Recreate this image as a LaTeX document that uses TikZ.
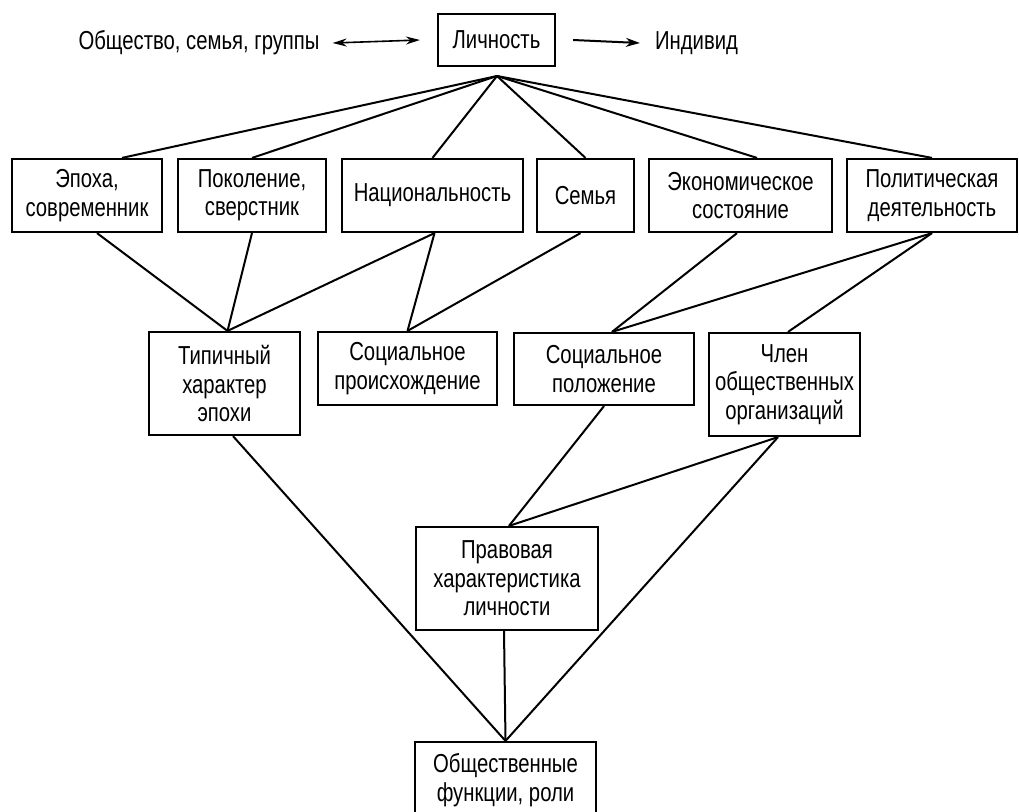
\documentclass[tikz,border=0pt]{standalone}
\usepackage{fontspec}
\setmainfont[FakeStretch=0.78]{Liberation Sans}
\usetikzlibrary{arrows.meta,calc}
\tikzset{
  box/.style={draw=black, line width=2.2pt, inner sep=0pt, align=center, fill=white},
  link/.style={draw=black, line width=2pt},
  lbl/.style={inner sep=0pt, align=center},
  tip/.style={-{Stealth[length=14pt,width=9pt]}}
}
\begin{document}
\begin{tikzpicture}[x=1pt,y=-1pt,font=\fontsize{26}{28.5}\selectfont]
\useasboundingbox (0,0) rectangle (1019,811);
\fill[white] (0,0) rectangle (1019,811);
% top
\node[box, minimum width=117pt, minimum height=52pt] (L) at (496.5,40) {Личность};
\node[lbl] (soc) at (199,43) {Общество, семья, группы};
\node[lbl] (ind) at (696.5,43) {Индивид};
\coordinate (hub) at (497,76);
% row 1
\node[box, minimum width=150pt, minimum height=73pt] (e1) at (87,195.5) {Эпоха,\\современник};
\node[box, minimum width=148pt, minimum height=73pt] (e2) at (252,195.5) {Поколение,\\сверстник};
\node[box, minimum width=181pt, minimum height=73pt] (e3) at (432.5,195.5) {Национальность};
\node[box, minimum width=97pt, minimum height=73pt] (e4) at (585.5,195.5) {Семья};
\node[box, minimum width=183pt, minimum height=73pt] (e5) at (740.5,195.5) {Экономическое\\состояние};
\node[box, minimum width=170pt, minimum height=73pt] (e6) at (932,195.5) {Политическая\\деятельность};
% row 2
\node[box, minimum width=151pt, minimum height=103pt] (t) at (224.5,383.5) {Типичный\\характер\\эпохи};
\node[box, minimum width=179pt, minimum height=73pt] (sp) at (407.5,368.5) {Социальное\\происхождение};
\node[box, minimum width=180pt, minimum height=72pt] (sl) at (604,369) {Социальное\\положение};
\node[box, minimum width=151pt, minimum height=103pt] (ch) at (784.5,384.5) {Член\\общественных\\организаций};
% row 3, 4
\node[box, minimum width=182pt, minimum height=103pt] (pr) at (507,578.5) {Правовая\\характеристика\\личности};
\node[box, minimum width=181pt, minimum height=76pt] (of) at (505.5,780) {Общественные\\функции, роли};
% arrows top
\draw[line width=1.6pt, {Stealth[length=14pt,width=8pt]}-{Stealth[length=14pt,width=8pt]}] ($(soc.east)+(13,0)$) -- ($(L.west)+(-17,0)$);
\draw[line width=2pt, tip] ($(L.east)+(17,0)$) -- ($(ind.west)+(-15,0)$);
% hub to row 1
\draw[link] (hub) -- ($(e1.north)+(35,0)$);
\draw[link] (hub) -- (e2.north);
\draw[link] (hub) -- (e3.north);
\draw[link] (hub) -- (e4.north);
\draw[link] (hub) -- ($(e5.north)+(16.5,0)$);
\draw[link] (hub) -- (e6.north);
% row 1 to row 2
\draw[link] ($(e1.south)+(10,0)$) -- ($(t.north)+(3,0)$);
\draw[link] (e2.south) -- ($(t.north)+(3,0)$);
\draw[link] ($(e3.south)+(2,0)$) -- ($(t.north)+(3,0)$);
\draw[link] ($(e3.south)+(2,0)$) -- (sp.north);
\draw[link] ($(e4.south)+(-5,0)$) -- (sp.north);
\draw[link] ($(e5.south)+(-3.5,0)$) -- ($(sl.north)+(8,0)$);
\draw[link] (e6.south) -- ($(sl.north)+(8,0)$);
\draw[link] (e6.south) -- ($(ch.north)+(3.5,0)$);
% row 2 to lower
\draw[link] (sl.south) -- ($(pr.north)+(2,0)$);
\draw[link] ($(ch.south)+(-6.5,0)$) -- ($(pr.north)+(2,0)$);
\draw[link] ($(ch.south)+(-6.5,0)$) -- (of.north);
\draw[link] ($(t.south)+(8.5,0)$) -- (of.north);
\draw[link] ($(pr.south)+(-3,0)$) -- (of.north);
\end{tikzpicture}
\end{document}
